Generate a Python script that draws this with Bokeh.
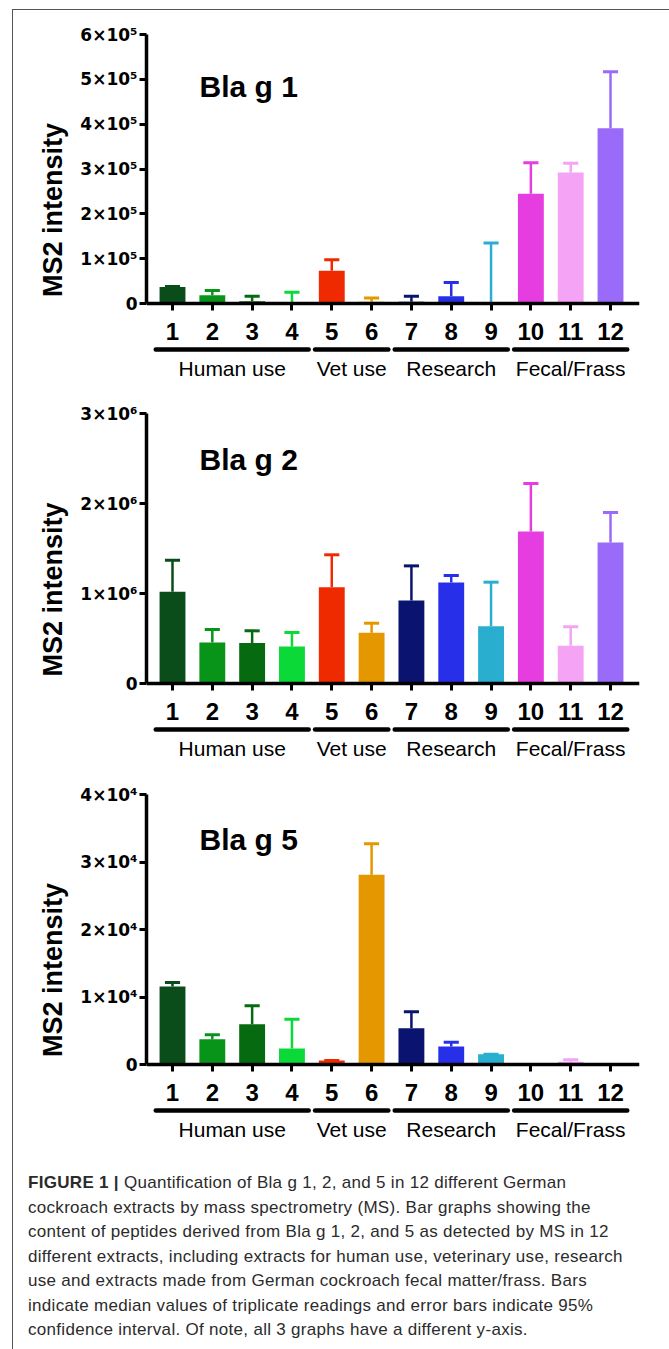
from bokeh.plotting import figure
from bokeh.models import FixedTicker, Div, Range1d
from bokeh.layouts import column
from bokeh.embed import file_html
from bokeh.resources import INLINE
from bokeh.core.properties import value

# ---------------- data ----------------
extract_ids = [1, 2, 3, 4, 5, 6, 7, 8, 9, 10, 11, 12]
extract_labels = ["1", "2", "3", "4", "5", "6", "7", "8", "9", "10", "11", "12"]
group_names = ["Human use", "Vet use", "Research", "Fecal/Frass"]
group_members = [[1, 2, 3, 4], [5, 6], [7, 8, 9], [10, 11, 12]]
bar_colors = ["#0b4d1a", "#089418", "#066a10", "#0ad937", "#f02a00", "#e59700",
              "#0a1470", "#2730e8", "#2aaed0", "#e53de0", "#f5a3f5", "#9a6af8"]

bla1_median = [37000, 18500, 5000, 1500, 73000, 4000, 4000, 16000, 3000, 245000, 292000, 391000]
bla1_upper = [38000, 29000, 16000, 25000, 97500, 12000, 16000, 47000, 135000, 314000, 313000, 517000]
bla1_ticks = [0, 100000, 200000, 300000, 400000, 500000, 600000]
bla1_tick_labels = ["0", "1×10⁵", "2×10⁵", "3×10⁵", "4×10⁵", "5×10⁵", "6×10⁵"]

bla2_median = [1020000, 455000, 450000, 410000, 1070000, 563000, 922000, 1122000, 637000, 1689000, 419000, 1567000]
bla2_upper = [1370000, 600000, 585000, 567000, 1430000, 670000, 1307000, 1200000, 1126000, 2222000, 630000, 1900000]
bla2_ticks = [0, 1000000, 2000000, 3000000]
bla2_tick_labels = ["0", "1×10⁶", "2×10⁶", "3×10⁶"]

bla5_median = [11550, 3750, 5970, 2370, 600, 28100, 5380, 2670, 1530, 0, 400, 0]
bla5_upper = [12150, 4400, 8700, 6710, 600, 32700, 7800, 3300, 1530, 0, 700, 0]
bla5_ticks = [0, 10000, 20000, 30000, 40000]
bla5_tick_labels = ["0", "1×10⁴", "2×10⁴", "3×10⁴", "4×10⁴"]

caption_lines = [
    "<b>FIGURE 1 |</b> Quantification of Bla g 1, 2, and 5 in 12 different German",
    "cockroach extracts by mass spectrometry (MS). Bar graphs showing the",
    "content of peptides derived from Bla g 1, 2, and 5 as detected by MS in 12",
    "different extracts, including extracts for human use, veterinary use, research",
    "use and extracts made from German cockroach fecal matter/frass. Bars",
    "indicate median values of triplicate readings and error bars indicate 95%",
    "confidence interval. Of note, all 3 graphs have a different y-axis.",
]

FONT = "Liberation Sans"
TICK_FONT = "DejaVu Sans"

# ---------------- layout constants (pixels) ----------------
FIG_W = 653
FIG_H = 380
LEFT = 133
RIGHT = 27
X_START, X_END = 0.347, 12.728
BAR_W = 0.65
CAP_HALF = 0.19


def make_panel(title, median, upper, ticks, tick_labels, top_px, zero_px, title_px):
    ymax = ticks[-1]
    bottom_px = FIG_H - 5
    scale = ymax / (zero_px - top_px)          # data units per pixel
    y_start = -(bottom_px - zero_px) * scale
    p = figure(width=FIG_W, height=FIG_H, output_backend="svg", toolbar_location=None,
               x_range=Range1d(X_START, X_END), y_range=Range1d(y_start, ymax),
               min_border_left=LEFT, min_border_right=RIGHT,
               min_border_top=top_px, min_border_bottom=FIG_H - bottom_px)
    p.outline_line_color = None
    p.grid.visible = False
    p.background_fill_color = "white"
    p.border_fill_color = "white"

    # bars
    p.vbar(x=extract_ids, top=median, bottom=0, width=BAR_W,
           fill_color=bar_colors, line_color=None)
    # error bars (upper only)
    p.segment(x0=extract_ids, y0=median, x1=extract_ids, y1=upper,
              line_color=bar_colors, line_width=2.5)
    p.segment(x0=[x - CAP_HALF for x in extract_ids], y0=upper,
              x1=[x + CAP_HALF for x in extract_ids], y1=upper,
              line_color=bar_colors, line_width=3)

    # x axis at zero
    xa = p.xaxis[0]
    xa.fixed_location = 0
    xa.bounds = (X_START, X_END)
    xa.ticker = FixedTicker(ticks=extract_ids)
    xa.major_label_overrides = {i: l for i, l in zip(extract_ids, extract_labels)}
    xa.axis_line_width = 3.5
    xa.major_tick_line_width = 3
    xa.major_tick_in = 0
    xa.major_tick_out = 7
    xa.minor_tick_line_color = None
    xa.major_label_text_font = FONT
    xa.major_label_text_font_style = "bold"
    xa.major_label_text_font_size = "24px"
    xa.major_label_text_color = "black"
    xa.major_label_standoff = 12

    # y axis
    ya = p.yaxis[0]
    ya.bounds = (0, ymax)
    ya.ticker = FixedTicker(ticks=ticks)
    ya.major_label_overrides = {t: l for t, l in zip(ticks, tick_labels)}
    ya.axis_line_width = 3.5
    ya.major_tick_line_width = 3
    ya.major_tick_in = 0
    ya.major_tick_out = 7
    ya.minor_tick_line_color = None
    ya.major_label_text_font = TICK_FONT
    ya.major_label_text_font_style = "bold"
    ya.major_label_text_font_size = "17px"
    ya.major_label_text_color = "black"
    ya.major_label_standoff = 2
    ya.axis_label = "MS2 intensity"
    ya.axis_label_text_font = FONT
    ya.axis_label_text_font_style = "bold"
    ya.axis_label_text_font_size = "27px"
    ya.axis_label_text_color = "black"
    ya.axis_label_standoff = 9

    # group lines and labels
    g_x0 = [m[0] - 0.42 for m in group_members]
    g_x1 = [m[-1] + 0.42 for m in group_members]
    g_xc = [(m[0] + m[-1]) / 2 for m in group_members]
    line_y = -46 * scale
    label_y = -65 * scale
    p.segment(x0=g_x0, y0=[line_y] * 4, x1=g_x1, y1=[line_y] * 4,
              line_color="black", line_width=4.5, line_cap="round")
    p.text(x=g_xc, y=[label_y] * 4, text=group_names, text_font=value(FONT),
           text_font_size="21px", text_align="center", text_baseline="middle",
           text_color="black")

    # title
    p.text(x=[1.678], y=[title_px * scale], text=[title], text_font=value(FONT),
           text_font_style="bold", text_font_size="30px", text_align="left",
           text_baseline="alphabetic", text_color="black")
    return p


p1 = make_panel("Bla g 1", bla1_median, bla1_upper, bla1_ticks, bla1_tick_labels, 24, 293, 217)
p2 = make_panel("Bla g 2", bla2_median, bla2_upper, bla2_ticks, bla2_tick_labels, 23, 293, 224)
p3 = make_panel("Bla g 5", bla5_median, bla5_upper, bla5_ticks, bla5_tick_labels, 24, 294, 225)

caption_html = ('<div style="font-family: \'Liberation Sans\', Arial, sans-serif; font-size: 17px; '
                'letter-spacing: 0.3px; line-height: 24.5px; color: #2b2b2b; white-space: nowrap; '
                'padding: 16px 0 0 10px;">'
                + "<br>".join(caption_lines) + "</div>")
cap = Div(text=caption_html, width=FIG_W, height=189)

layout = column(p1, p2, p3, cap, margin=(9, 0, 0, 12),
                styles={"border-left": "1px solid #555", "border-top": "1px solid #555",
                        "border-right": "1px solid #555"})

open("out.html", "w").write(file_html(layout, INLINE))
